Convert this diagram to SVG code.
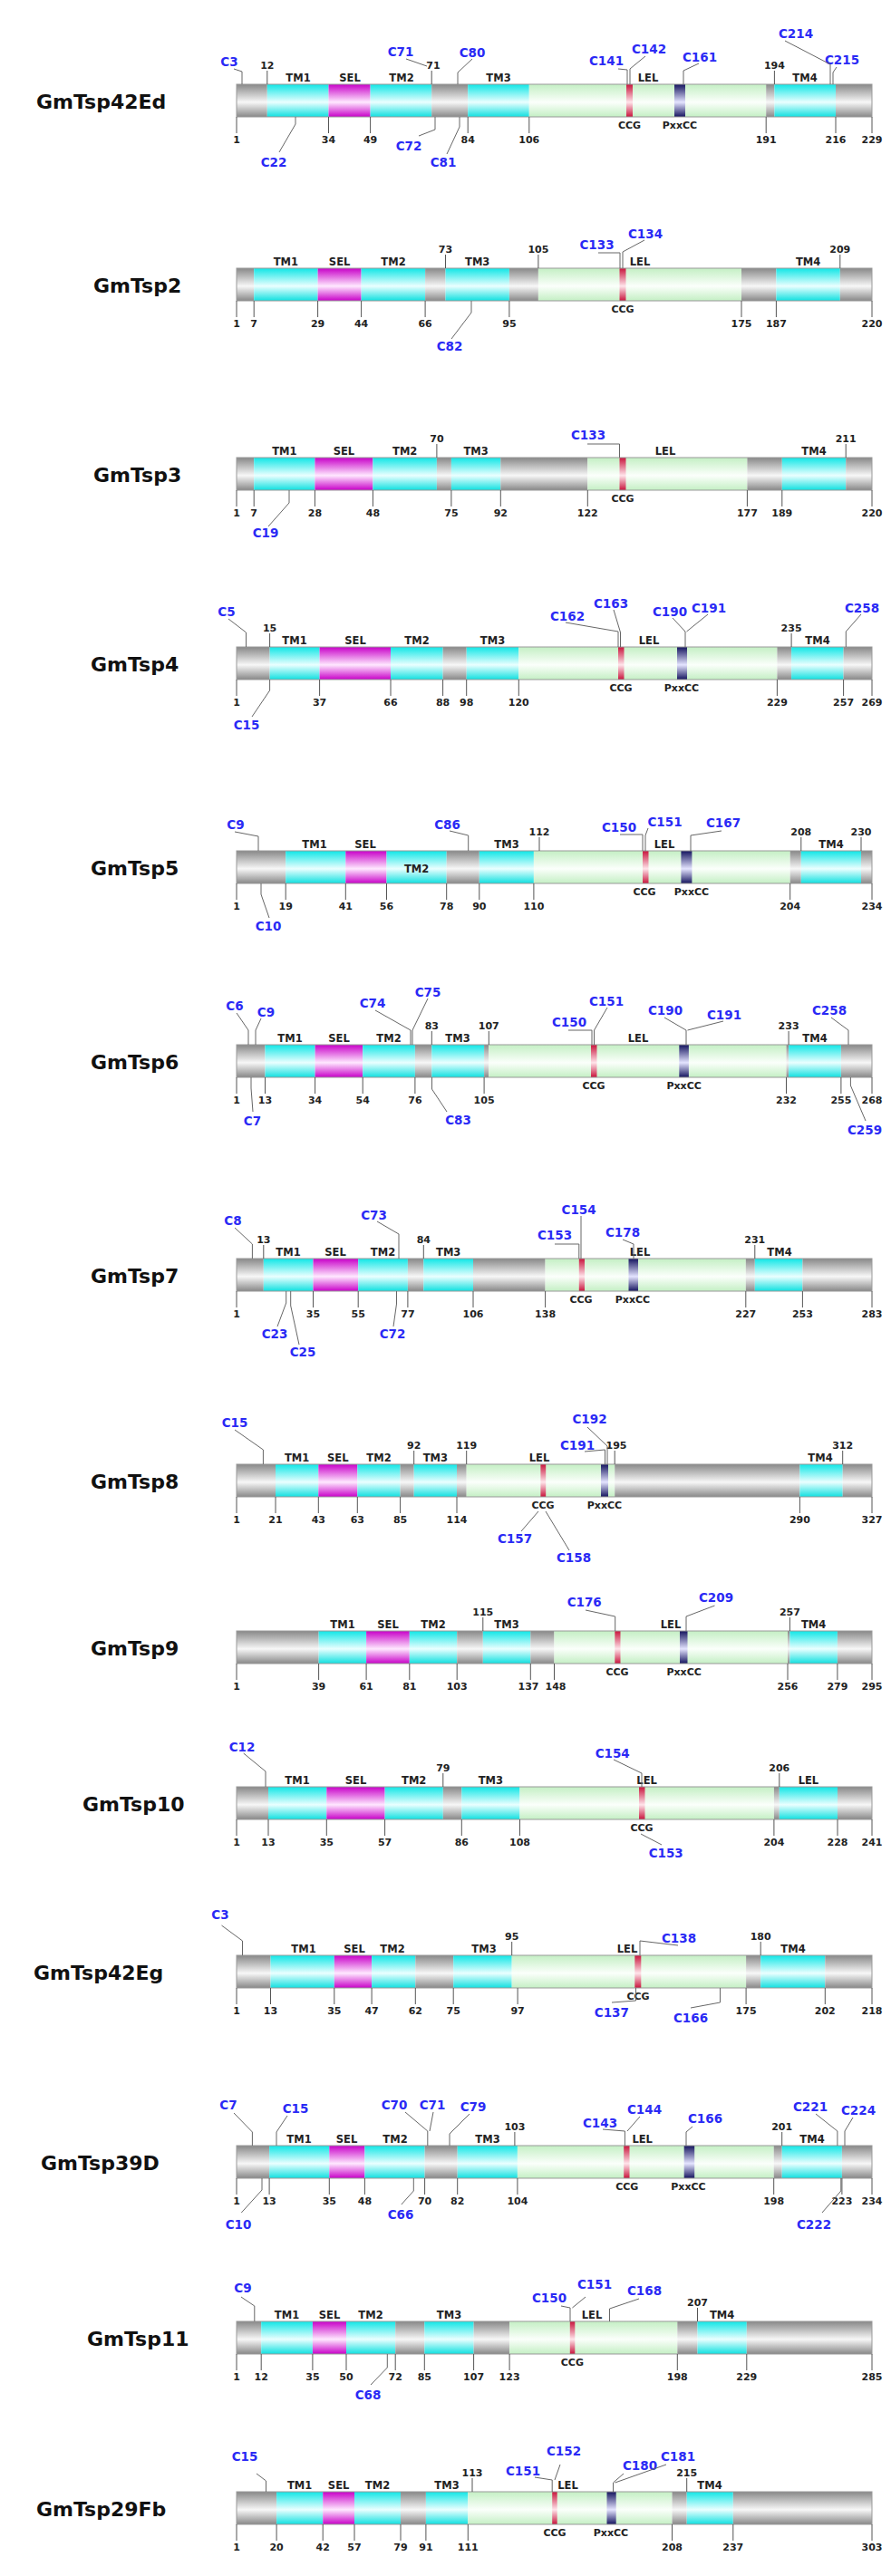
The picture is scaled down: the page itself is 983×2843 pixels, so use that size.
<svg xmlns="http://www.w3.org/2000/svg" width="983" height="2843" viewBox="0 0 983 2843">
<defs>
<linearGradient id="gG" x1="0" y1="0" x2="0" y2="1"><stop offset="0" stop-color="#888"/><stop offset="0.55" stop-color="#f7f7f7"/><stop offset="1" stop-color="#888"/></linearGradient>
<linearGradient id="gC" x1="0" y1="0" x2="0" y2="1"><stop offset="0" stop-color="#10e6e6"/><stop offset="0.55" stop-color="#eaffff"/><stop offset="1" stop-color="#10e0e0"/></linearGradient>
<linearGradient id="gM" x1="0" y1="0" x2="0" y2="1"><stop offset="0" stop-color="#c800c8"/><stop offset="0.55" stop-color="#ffe8ff"/><stop offset="1" stop-color="#c800c8"/></linearGradient>
<linearGradient id="gL" x1="0" y1="0" x2="0" y2="1"><stop offset="0" stop-color="#c4efc4"/><stop offset="0.55" stop-color="#fbfffb"/><stop offset="1" stop-color="#c4efc4"/></linearGradient>
<linearGradient id="gR" x1="0" y1="0" x2="0" y2="1"><stop offset="0" stop-color="#c8143c"/><stop offset="0.55" stop-color="#ffe4ea"/><stop offset="1" stop-color="#c8143c"/></linearGradient>
<linearGradient id="gN" x1="0" y1="0" x2="0" y2="1"><stop offset="0" stop-color="#14145e"/><stop offset="0.55" stop-color="#e4e4ff"/><stop offset="1" stop-color="#14145e"/></linearGradient>
</defs>
<style>
.nm{font-family:"DejaVu Sans",sans-serif;font-weight:bold;font-size:22px;fill:#111}
.d{font-family:"DejaVu Sans",sans-serif;font-weight:bold;font-size:11.5px;fill:#222;text-anchor:middle}
.n{font-family:"DejaVu Sans",sans-serif;font-weight:bold;font-size:11px;fill:#222;text-anchor:middle}
.c{font-family:"DejaVu Sans",sans-serif;font-weight:bold;font-size:13.5px;fill:#2a2af5;text-anchor:middle}
.gy{fill:url(#gG)}.cy{fill:url(#gC)}.mg{fill:url(#gM)}.gr{fill:url(#gL)}.rd{fill:url(#gR)}.nv{fill:url(#gN)}
.ol{fill:none;stroke:#999;stroke-width:1}
.t{stroke:#555;stroke-width:1;fill:none}
.k{stroke:#666;stroke-width:1;fill:none}
</style>
<rect width="983" height="2843" fill="#fff"/>

<g id="GmTsp42Ed" transform="translate(0,93)">
<text class="nm" x="40" y="27">GmTsp42Ed</text>
<rect class="gy" x="261" y="0" width="33.8" height="36"/><rect class="cy" x="294.8" y="0" width="67.7" height="36"/><rect class="mg" x="362.5" y="0" width="46.1" height="36"/><rect class="cy" x="408.6" y="0" width="67.6" height="36"/><rect class="gy" x="476.2" y="0" width="40" height="36"/><rect class="cy" x="516.2" y="0" width="67.6" height="36"/><rect class="gr" x="583.8" y="0" width="261.4" height="36"/><rect class="gy" x="845.2" y="0" width="9.2" height="36"/><rect class="cy" x="854.4" y="0" width="67.6" height="36"/><rect class="gy" x="922" y="0" width="40" height="36"/>
<rect class="rd" x="691" y="0" width="7" height="36"/><rect class="nv" x="744" y="0" width="12" height="36"/>
<rect class="ol" x="261" y="0" width="701" height="36"/>
<text class="d" y="-3"><tspan x="329">TM1</tspan><tspan x="386">SEL</tspan><tspan x="443">TM2</tspan><tspan x="550">TM3</tspan><tspan x="715">LEL</tspan><tspan x="888">TM4</tspan></text>
<text class="n" y="-17"><tspan x="294.8">12</tspan><tspan x="478">71</tspan><tspan x="854.4">194</tspan></text>
<text class="n" y="65"><tspan x="261">1</tspan><tspan x="362.5">34</tspan><tspan x="408.6">49</tspan><tspan x="516.2">84</tspan><tspan x="583.8">106</tspan><tspan x="845.2">191</tspan><tspan x="922">216</tspan><tspan x="962">229</tspan></text>
<text class="n" y="49"><tspan x="694.5">CCG</tspan><tspan x="750">PxxCC</tspan></text>
<text class="c"><tspan x="253" y="-20">C3</tspan><tspan x="302" y="91">C22</tspan><tspan x="442" y="-31">C71</tspan><tspan x="451" y="73">C72</tspan><tspan x="521" y="-30">C80</tspan><tspan x="489" y="91">C81</tspan><tspan x="669" y="-21">C141</tspan><tspan x="716" y="-34">C142</tspan><tspan x="772" y="-25">C161</tspan><tspan x="878" y="-51">C214</tspan><tspan x="929" y="-22">C215</tspan></text>
</g>

<g id="GmTsp2" transform="translate(0,296)">
<text class="nm" x="103" y="27">GmTsp2</text>
<rect class="gy" x="261" y="0" width="19.2" height="36"/><rect class="cy" x="280.2" y="0" width="70.4" height="36"/><rect class="mg" x="350.6" y="0" width="48" height="36"/><rect class="cy" x="398.6" y="0" width="70.5" height="36"/><rect class="gy" x="469.1" y="0" width="22.4" height="36"/><rect class="cy" x="491.5" y="0" width="70.4" height="36"/><rect class="gy" x="561.9" y="0" width="32" height="36"/><rect class="gr" x="593.9" y="0" width="224.1" height="36"/><rect class="gy" x="818" y="0" width="38.4" height="36"/><rect class="cy" x="856.4" y="0" width="70.4" height="36"/><rect class="gy" x="926.8" y="0" width="35.2" height="36"/>
<rect class="rd" x="683.5" y="0" width="7" height="36"/>
<rect class="ol" x="261" y="0" width="701" height="36"/>
<text class="d" y="-3"><tspan x="315.4">TM1</tspan><tspan x="374.6">SEL</tspan><tspan x="434">TM2</tspan><tspan x="526.7">TM3</tspan><tspan x="706">LEL</tspan><tspan x="891.6">TM4</tspan></text>
<text class="n" y="-17"><tspan x="491.5">73</tspan><tspan x="593.9">105</tspan><tspan x="926.8">209</tspan></text>
<text class="n" y="65"><tspan x="261">1</tspan><tspan x="280.2">7</tspan><tspan x="350.6">29</tspan><tspan x="398.6">44</tspan><tspan x="469.1">66</tspan><tspan x="561.9">95</tspan><tspan x="818">175</tspan><tspan x="856.4">187</tspan><tspan x="962">220</tspan></text>
<text class="n" y="49"><tspan x="687">CCG</tspan></text>
<text class="c"><tspan x="496" y="91">C82</tspan><tspan x="658.5" y="-21">C133</tspan><tspan x="712" y="-33">C134</tspan></text>
</g>

<g id="GmTsp3" transform="translate(0,505)">
<text class="nm" x="103" y="27">GmTsp3</text>
<rect class="gy" x="261" y="0" width="19.2" height="36"/><rect class="cy" x="280.2" y="0" width="67.2" height="36"/><rect class="mg" x="347.4" y="0" width="64" height="36"/><rect class="cy" x="411.4" y="0" width="70.5" height="36"/><rect class="gy" x="481.9" y="0" width="16" height="36"/><rect class="cy" x="497.9" y="0" width="54.4" height="36"/><rect class="gy" x="552.3" y="0" width="96" height="36"/><rect class="gr" x="648.3" y="0" width="176.1" height="36"/><rect class="gy" x="824.4" y="0" width="38.4" height="36"/><rect class="cy" x="862.8" y="0" width="70.4" height="36"/><rect class="gy" x="933.2" y="0" width="28.8" height="36"/>
<rect class="rd" x="683.5" y="0" width="7" height="36"/>
<rect class="ol" x="261" y="0" width="701" height="36"/>
<text class="d" y="-3"><tspan x="313.8">TM1</tspan><tspan x="379.4">SEL</tspan><tspan x="446.7">TM2</tspan><tspan x="525.1">TM3</tspan><tspan x="734">LEL</tspan><tspan x="898">TM4</tspan></text>
<text class="n" y="-17"><tspan x="481.9">70</tspan><tspan x="933.2">211</tspan></text>
<text class="n" y="65"><tspan x="261">1</tspan><tspan x="280.2">7</tspan><tspan x="347.4">28</tspan><tspan x="411.4">48</tspan><tspan x="497.9">75</tspan><tspan x="552.3">92</tspan><tspan x="648.3">122</tspan><tspan x="824.4">177</tspan><tspan x="862.8">189</tspan><tspan x="962">220</tspan></text>
<text class="n" y="49"><tspan x="687">CCG</tspan></text>
<text class="c"><tspan x="293" y="88">C19</tspan><tspan x="649" y="-20">C133</tspan></text>
</g>

<g id="GmTsp4" transform="translate(0,714)">
<text class="nm" x="100" y="27">GmTsp4</text>
<rect class="gy" x="261" y="0" width="36.6" height="36"/><rect class="cy" x="297.6" y="0" width="55" height="36"/><rect class="mg" x="352.6" y="0" width="78.4" height="36"/><rect class="cy" x="431" y="0" width="57.6" height="36"/><rect class="gy" x="488.6" y="0" width="26.1" height="36"/><rect class="cy" x="514.7" y="0" width="57.6" height="36"/><rect class="gr" x="572.3" y="0" width="285.1" height="36"/><rect class="gy" x="857.4" y="0" width="15.7" height="36"/><rect class="cy" x="873.1" y="0" width="57.5" height="36"/><rect class="gy" x="930.6" y="0" width="31.4" height="36"/>
<rect class="rd" x="682" y="0" width="6.5" height="36"/><rect class="nv" x="747" y="0" width="11" height="36"/>
<rect class="ol" x="261" y="0" width="701" height="36"/>
<text class="d" y="-3"><tspan x="325">TM1</tspan><tspan x="392">SEL</tspan><tspan x="460">TM2</tspan><tspan x="543.5">TM3</tspan><tspan x="716">LEL</tspan><tspan x="902">TM4</tspan></text>
<text class="n" y="-17"><tspan x="297.6">15</tspan><tspan x="873.1">235</tspan></text>
<text class="n" y="65"><tspan x="261">1</tspan><tspan x="352.6">37</tspan><tspan x="431">66</tspan><tspan x="488.6">88</tspan><tspan x="514.7">98</tspan><tspan x="572.3">120</tspan><tspan x="857.4">229</tspan><tspan x="930.6">257</tspan><tspan x="962">269</tspan></text>
<text class="n" y="49"><tspan x="685">CCG</tspan><tspan x="752">PxxCC</tspan></text>
<text class="c"><tspan x="250" y="-34">C5</tspan><tspan x="272" y="91">C15</tspan><tspan x="626" y="-29">C162</tspan><tspan x="674" y="-43">C163</tspan><tspan x="739" y="-34">C190</tspan><tspan x="782" y="-38">C191</tspan><tspan x="951" y="-38">C258</tspan></text>
</g>

<g id="GmTsp5" transform="translate(0,939)">
<text class="nm" x="100" y="27">GmTsp5</text>
<rect class="gy" x="261" y="0" width="54.2" height="36"/><rect class="cy" x="315.2" y="0" width="66.1" height="36"/><rect class="mg" x="381.3" y="0" width="45.2" height="36"/><rect class="cy" x="426.5" y="0" width="66.2" height="36"/><rect class="gy" x="492.7" y="0" width="36.1" height="36"/><rect class="cy" x="528.8" y="0" width="60.1" height="36"/><rect class="gr" x="588.9" y="0" width="282.8" height="36"/><rect class="gy" x="871.7" y="0" width="12.1" height="36"/><rect class="cy" x="883.8" y="0" width="66.2" height="36"/><rect class="gy" x="950" y="0" width="12" height="36"/>
<rect class="rd" x="709" y="0" width="6.5" height="36"/><rect class="nv" x="751.4" y="0" width="12" height="36"/>
<rect class="ol" x="261" y="0" width="701" height="36"/>
<text class="d" y="-3"><tspan x="347">TM1</tspan><tspan x="403">SEL</tspan><tspan x="559">TM3</tspan><tspan x="733">LEL</tspan><tspan x="917">TM4</tspan></text>
<text class="d" x="459.6" y="24">TM2</text>
<text class="n" y="-17"><tspan x="595">112</tspan><tspan x="883.8">208</tspan><tspan x="950">230</tspan></text>
<text class="n" y="65"><tspan x="261">1</tspan><tspan x="315.2">19</tspan><tspan x="381.3">41</tspan><tspan x="426.5">56</tspan><tspan x="492.7">78</tspan><tspan x="528.8">90</tspan><tspan x="588.9">110</tspan><tspan x="871.7">204</tspan><tspan x="962">234</tspan></text>
<text class="n" y="49"><tspan x="711">CCG</tspan><tspan x="763">PxxCC</tspan></text>
<text class="c"><tspan x="260" y="-24">C9</tspan><tspan x="296" y="88">C10</tspan><tspan x="493.5" y="-24">C86</tspan><tspan x="683" y="-21">C150</tspan><tspan x="733.5" y="-27">C151</tspan><tspan x="798" y="-26">C167</tspan></text>
</g>

<g id="GmTsp6" transform="translate(0,1153)">
<text class="nm" x="100" y="27">GmTsp6</text>
<rect class="gy" x="261" y="0" width="31.5" height="36"/><rect class="cy" x="292.5" y="0" width="55.1" height="36"/><rect class="mg" x="347.6" y="0" width="52.6" height="36"/><rect class="cy" x="400.2" y="0" width="57.7" height="36"/><rect class="gy" x="457.9" y="0" width="18.4" height="36"/><rect class="cy" x="476.3" y="0" width="57.8" height="36"/><rect class="gy" x="534.1" y="0" width="5.2" height="36"/><rect class="gr" x="539.3" y="0" width="328.2" height="36"/><rect class="gy" x="867.5" y="0" width="2.6" height="36"/><rect class="cy" x="870.1" y="0" width="57.8" height="36"/><rect class="gy" x="927.9" y="0" width="34.1" height="36"/>
<rect class="rd" x="652" y="0" width="6.5" height="36"/><rect class="nv" x="749.3" y="0" width="10.6" height="36"/>
<rect class="ol" x="261" y="0" width="701" height="36"/>
<text class="d" y="-3"><tspan x="320">TM1</tspan><tspan x="374">SEL</tspan><tspan x="429">TM2</tspan><tspan x="505">TM3</tspan><tspan x="704">LEL</tspan><tspan x="899">TM4</tspan></text>
<text class="n" y="-17"><tspan x="476.3">83</tspan><tspan x="539.3">107</tspan><tspan x="870.1">233</tspan></text>
<text class="n" y="65"><tspan x="261">1</tspan><tspan x="292.5">13</tspan><tspan x="347.6">34</tspan><tspan x="400.2">54</tspan><tspan x="457.9">76</tspan><tspan x="534.1">105</tspan><tspan x="867.5">232</tspan><tspan x="927.9">255</tspan><tspan x="962">268</tspan></text>
<text class="n" y="49"><tspan x="655">CCG</tspan><tspan x="754.6">PxxCC</tspan></text>
<text class="c"><tspan x="259" y="-38">C6</tspan><tspan x="293.5" y="-31">C9</tspan><tspan x="278.5" y="89">C7</tspan><tspan x="411" y="-41">C74</tspan><tspan x="472" y="-53">C75</tspan><tspan x="505.5" y="88">C83</tspan><tspan x="628" y="-20">C150</tspan><tspan x="669" y="-43">C151</tspan><tspan x="734" y="-33">C190</tspan><tspan x="799" y="-28">C191</tspan><tspan x="915" y="-33">C258</tspan><tspan x="954" y="99">C259</tspan></text>
</g>

<g id="GmTsp7" transform="translate(0,1389)">
<text class="nm" x="100" y="27">GmTsp7</text>
<rect class="gy" x="261" y="0" width="29.8" height="36"/><rect class="cy" x="290.8" y="0" width="54.7" height="36"/><rect class="mg" x="345.5" y="0" width="49.7" height="36"/><rect class="cy" x="395.2" y="0" width="54.7" height="36"/><rect class="gy" x="449.9" y="0" width="17.4" height="36"/><rect class="cy" x="467.3" y="0" width="54.7" height="36"/><rect class="gy" x="522" y="0" width="79.6" height="36"/><rect class="gr" x="601.6" y="0" width="221.2" height="36"/><rect class="gy" x="822.8" y="0" width="10" height="36"/><rect class="cy" x="832.8" y="0" width="52.6" height="36"/><rect class="gy" x="885.4" y="0" width="76.6" height="36"/>
<rect class="rd" x="638.8" y="0" width="6.2" height="36"/><rect class="nv" x="693.5" y="0" width="10.5" height="36"/>
<rect class="ol" x="261" y="0" width="701" height="36"/>
<text class="d" y="-3"><tspan x="318">TM1</tspan><tspan x="370">SEL</tspan><tspan x="422.5">TM2</tspan><tspan x="494.7">TM3</tspan><tspan x="706">LEL</tspan><tspan x="860">TM4</tspan></text>
<text class="n" y="-17"><tspan x="290.8">13</tspan><tspan x="467.3">84</tspan><tspan x="832.8">231</tspan></text>
<text class="n" y="65"><tspan x="261">1</tspan><tspan x="345.5">35</tspan><tspan x="395.2">55</tspan><tspan x="449.9">77</tspan><tspan x="522">106</tspan><tspan x="601.6">138</tspan><tspan x="822.8">227</tspan><tspan x="885.4">253</tspan><tspan x="962">283</tspan></text>
<text class="n" y="49"><tspan x="641">CCG</tspan><tspan x="698">PxxCC</tspan></text>
<text class="c"><tspan x="257" y="-37">C8</tspan><tspan x="303" y="88">C23</tspan><tspan x="334" y="108">C25</tspan><tspan x="433" y="88">C72</tspan><tspan x="412.5" y="-43">C73</tspan><tspan x="612" y="-21">C153</tspan><tspan x="638.6" y="-49">C154</tspan><tspan x="687" y="-24">C178</tspan></text>
</g>

<g id="GmTsp8" transform="translate(0,1616)">
<text class="nm" x="100" y="27">GmTsp8</text>
<rect class="gy" x="261" y="0" width="43" height="36"/><rect class="cy" x="304" y="0" width="47.3" height="36"/><rect class="mg" x="351.3" y="0" width="43" height="36"/><rect class="cy" x="394.3" y="0" width="47.3" height="36"/><rect class="gy" x="441.6" y="0" width="15.1" height="36"/><rect class="cy" x="456.7" y="0" width="47.3" height="36"/><rect class="gy" x="504" y="0" width="10.7" height="36"/><rect class="gr" x="514.7" y="0" width="163.5" height="36"/><rect class="gy" x="678.2" y="0" width="204.2" height="36"/><rect class="cy" x="882.4" y="0" width="47.3" height="36"/><rect class="gy" x="929.7" y="0" width="32.3" height="36"/>
<rect class="rd" x="596.4" y="0" width="5.8" height="36"/><rect class="nv" x="663" y="0" width="8" height="36"/>
<rect class="ol" x="261" y="0" width="701" height="36"/>
<text class="d" y="-3"><tspan x="327.6">TM1</tspan><tspan x="372.8">SEL</tspan><tspan x="418">TM2</tspan><tspan x="480.3">TM3</tspan><tspan x="595">LEL</tspan><tspan x="905">TM4</tspan></text>
<text class="n" y="-17"><tspan x="456.7">92</tspan><tspan x="514.7">119</tspan><tspan x="680">195</tspan><tspan x="929.7">312</tspan></text>
<text class="n" y="65"><tspan x="261">1</tspan><tspan x="304">21</tspan><tspan x="351.3">43</tspan><tspan x="394.3">63</tspan><tspan x="441.6">85</tspan><tspan x="504">114</tspan><tspan x="882.4">290</tspan><tspan x="962">327</tspan></text>
<text class="n" y="49"><tspan x="599">CCG</tspan><tspan x="667">PxxCC</tspan></text>
<text class="c"><tspan x="259" y="-41">C15</tspan><tspan x="650.5" y="-45">C192</tspan><tspan x="637" y="-16">C191</tspan><tspan x="568" y="87">C157</tspan><tspan x="633" y="108">C158</tspan></text>
</g>

<g id="GmTsp9" transform="translate(0,1800)">
<text class="nm" x="100" y="27">GmTsp9</text>
<rect class="gy" x="261" y="0" width="90.6" height="36"/><rect class="cy" x="351.6" y="0" width="52.5" height="36"/><rect class="mg" x="404.1" y="0" width="47.7" height="36"/><rect class="cy" x="451.8" y="0" width="52.4" height="36"/><rect class="gy" x="504.2" y="0" width="28.6" height="36"/><rect class="cy" x="532.8" y="0" width="52.5" height="36"/><rect class="gy" x="585.3" y="0" width="26.2" height="36"/><rect class="gr" x="611.5" y="0" width="257.5" height="36"/><rect class="gy" x="869" y="0" width="2.4" height="36"/><rect class="cy" x="871.4" y="0" width="52.5" height="36"/><rect class="gy" x="923.9" y="0" width="38.1" height="36"/>
<rect class="rd" x="678.3" y="0" width="6.2" height="36"/><rect class="nv" x="750" y="0" width="8.5" height="36"/>
<rect class="ol" x="261" y="0" width="701" height="36"/>
<text class="d" y="-3"><tspan x="378">TM1</tspan><tspan x="428">SEL</tspan><tspan x="478">TM2</tspan><tspan x="559">TM3</tspan><tspan x="740">LEL</tspan><tspan x="897.6">TM4</tspan></text>
<text class="n" y="-17"><tspan x="532.8">115</tspan><tspan x="871.4">257</tspan></text>
<text class="n" y="65"><tspan x="261">1</tspan><tspan x="351.6">39</tspan><tspan x="404.1">61</tspan><tspan x="451.8">81</tspan><tspan x="504.2">103</tspan><tspan x="583">137</tspan><tspan x="613">148</tspan><tspan x="869">256</tspan><tspan x="923.9">279</tspan><tspan x="962">295</tspan></text>
<text class="n" y="49"><tspan x="681">CCG</tspan><tspan x="754.6">PxxCC</tspan></text>
<text class="c"><tspan x="644.7" y="-27">C176</tspan><tspan x="790" y="-32">C209</tspan></text>
</g>

<g id="GmTsp10" transform="translate(0,1972)">
<text class="nm" x="91" y="27">GmTsp10</text>
<rect class="gy" x="261" y="0" width="35" height="36"/><rect class="cy" x="296" y="0" width="64.3" height="36"/><rect class="mg" x="360.3" y="0" width="64.3" height="36"/><rect class="cy" x="424.6" y="0" width="64.2" height="36"/><rect class="gy" x="488.8" y="0" width="20.5" height="36"/><rect class="cy" x="509.3" y="0" width="64.2" height="36"/><rect class="gr" x="573.5" y="0" width="280.4" height="36"/><rect class="gy" x="853.9" y="0" width="5.9" height="36"/><rect class="cy" x="859.8" y="0" width="64.2" height="36"/><rect class="gy" x="924" y="0" width="38" height="36"/>
<rect class="rd" x="705" y="0" width="6.5" height="36"/>
<rect class="ol" x="261" y="0" width="701" height="36"/>
<text class="d" y="-3"><tspan x="328">TM1</tspan><tspan x="392.5">SEL</tspan><tspan x="456.7">TM2</tspan><tspan x="541.4">TM3</tspan><tspan x="713.6">LEL</tspan><tspan x="891.9">LEL</tspan></text>
<text class="n" y="-17"><tspan x="488.8">79</tspan><tspan x="859.8">206</tspan></text>
<text class="n" y="65"><tspan x="261">1</tspan><tspan x="296">13</tspan><tspan x="360.3">35</tspan><tspan x="424.6">57</tspan><tspan x="509.3">86</tspan><tspan x="573.5">108</tspan><tspan x="853.9">204</tspan><tspan x="924">228</tspan><tspan x="962">241</tspan></text>
<text class="n" y="49"><tspan x="708">CCG</tspan></text>
<text class="c"><tspan x="267" y="-39">C12</tspan><tspan x="675.7" y="-32">C154</tspan><tspan x="734.7" y="78">C153</tspan></text>
</g>

<g id="GmTsp42Eg" transform="translate(0,2158)">
<text class="nm" x="37" y="27">GmTsp42Eg</text>
<rect class="gy" x="261" y="0" width="37.5" height="36"/><rect class="cy" x="298.5" y="0" width="70.3" height="36"/><rect class="mg" x="368.8" y="0" width="41.3" height="36"/><rect class="cy" x="410.1" y="0" width="48.2" height="36"/><rect class="gy" x="458.3" y="0" width="41.9" height="36"/><rect class="cy" x="500.2" y="0" width="64.5" height="36"/><rect class="gr" x="564.7" y="0" width="258.4" height="36"/><rect class="gy" x="823.1" y="0" width="16.1" height="36"/><rect class="cy" x="839.2" y="0" width="71.1" height="36"/><rect class="gy" x="910.3" y="0" width="51.7" height="36"/>
<rect class="rd" x="700.3" y="0" width="7" height="36"/>
<rect class="ol" x="261" y="0" width="701" height="36"/>
<text class="d" y="-3"><tspan x="335">TM1</tspan><tspan x="391">SEL</tspan><tspan x="433">TM2</tspan><tspan x="534">TM3</tspan><tspan x="692">LEL</tspan><tspan x="875">TM4</tspan></text>
<text class="n" y="-17"><tspan x="564.7">95</tspan><tspan x="839.2">180</tspan></text>
<text class="n" y="65"><tspan x="261">1</tspan><tspan x="298.5">13</tspan><tspan x="368.8">35</tspan><tspan x="410.1">47</tspan><tspan x="458.3">62</tspan><tspan x="500.2">75</tspan><tspan x="571.1">97</tspan><tspan x="823.1">175</tspan><tspan x="910.3">202</tspan><tspan x="962">218</tspan></text>
<text class="n" y="49"><tspan x="704">CCG</tspan></text>
<text class="c"><tspan x="243" y="-40">C3</tspan><tspan x="749" y="-14">C138</tspan><tspan x="674.8" y="68">C137</tspan><tspan x="762" y="74">C166</tspan></text>
</g>

<g id="GmTsp39D" transform="translate(0,2368)">
<text class="nm" x="45" y="27">GmTsp39D</text>
<rect class="gy" x="261" y="0" width="36.1" height="36"/><rect class="cy" x="297.1" y="0" width="66.2" height="36"/><rect class="mg" x="363.3" y="0" width="39.1" height="36"/><rect class="cy" x="402.4" y="0" width="66.2" height="36"/><rect class="gy" x="468.6" y="0" width="36.1" height="36"/><rect class="cy" x="504.7" y="0" width="66.2" height="36"/><rect class="gr" x="570.9" y="0" width="282.8" height="36"/><rect class="gy" x="853.7" y="0" width="9" height="36"/><rect class="cy" x="862.7" y="0" width="66.2" height="36"/><rect class="gy" x="928.9" y="0" width="33.1" height="36"/>
<rect class="rd" x="688.2" y="0" width="6.3" height="36"/><rect class="nv" x="754.7" y="0" width="11.5" height="36"/>
<rect class="ol" x="261" y="0" width="701" height="36"/>
<text class="d" y="-3"><tspan x="330">TM1</tspan><tspan x="382.5">SEL</tspan><tspan x="436">TM2</tspan><tspan x="538">TM3</tspan><tspan x="708.7">LEL</tspan><tspan x="896">TM4</tspan></text>
<text class="n" y="-17"><tspan x="567.9">103</tspan><tspan x="862.7">201</tspan></text>
<text class="n" y="65"><tspan x="261">1</tspan><tspan x="297.1">13</tspan><tspan x="363.3">35</tspan><tspan x="402.4">48</tspan><tspan x="468.6">70</tspan><tspan x="504.7">82</tspan><tspan x="570.9">104</tspan><tspan x="853.7">198</tspan><tspan x="928.9">223</tspan><tspan x="962">234</tspan></text>
<text class="n" y="49"><tspan x="691.8">CCG</tspan><tspan x="759.5">PxxCC</tspan></text>
<text class="c"><tspan x="252" y="-40">C7</tspan><tspan x="326" y="-36">C15</tspan><tspan x="435" y="-40">C70</tspan><tspan x="477" y="-40">C71</tspan><tspan x="522" y="-38">C79</tspan><tspan x="662" y="-20">C143</tspan><tspan x="711" y="-35">C144</tspan><tspan x="778" y="-25">C166</tspan><tspan x="894" y="-38">C221</tspan><tspan x="947" y="-34">C224</tspan><tspan x="263" y="92">C10</tspan><tspan x="442" y="81">C66</tspan><tspan x="898" y="92">C222</tspan></text>
</g>

<g id="GmTsp11" transform="translate(0,2562)">
<text class="nm" x="96" y="27">GmTsp11</text>
<rect class="gy" x="261" y="0" width="27.2" height="36"/><rect class="cy" x="288.2" y="0" width="56.7" height="36"/><rect class="mg" x="344.9" y="0" width="37.1" height="36"/><rect class="cy" x="382" y="0" width="54.2" height="36"/><rect class="gy" x="436.2" y="0" width="32.1" height="36"/><rect class="cy" x="468.3" y="0" width="54.3" height="36"/><rect class="gy" x="522.6" y="0" width="39.5" height="36"/><rect class="gr" x="562.1" y="0" width="185.2" height="36"/><rect class="gy" x="747.3" y="0" width="22.2" height="36"/><rect class="cy" x="769.5" y="0" width="54.3" height="36"/><rect class="gy" x="823.8" y="0" width="138.2" height="36"/>
<rect class="rd" x="628.8" y="0" width="5.5" height="36"/>
<rect class="ol" x="261" y="0" width="701" height="36"/>
<text class="d" y="-3"><tspan x="316.5">TM1</tspan><tspan x="363.5">SEL</tspan><tspan x="409">TM2</tspan><tspan x="495.5">TM3</tspan><tspan x="653">LEL</tspan><tspan x="796.6">TM4</tspan></text>
<text class="n" y="-17"><tspan x="769.5">207</tspan></text>
<text class="n" y="65"><tspan x="261">1</tspan><tspan x="288.2">12</tspan><tspan x="344.9">35</tspan><tspan x="382">50</tspan><tspan x="436.2">72</tspan><tspan x="468.3">85</tspan><tspan x="522.6">107</tspan><tspan x="562.1">123</tspan><tspan x="747.3">198</tspan><tspan x="823.8">229</tspan><tspan x="962">285</tspan></text>
<text class="n" y="49"><tspan x="631.4">CCG</tspan></text>
<text class="c"><tspan x="268" y="-32">C9</tspan><tspan x="406" y="86">C68</tspan><tspan x="606" y="-21">C150</tspan><tspan x="656" y="-36">C151</tspan><tspan x="711" y="-29">C168</tspan></text>
</g>

<g id="GmTsp29Fb" transform="translate(0,2750)">
<text class="nm" x="40" y="27">GmTsp29Fb</text>
<rect class="gy" x="261" y="0" width="44.1" height="36"/><rect class="cy" x="305.1" y="0" width="51.1" height="36"/><rect class="mg" x="356.2" y="0" width="34.8" height="36"/><rect class="cy" x="391" y="0" width="51" height="36"/><rect class="gy" x="442" y="0" width="27.9" height="36"/><rect class="cy" x="469.9" y="0" width="46.4" height="36"/><rect class="gr" x="516.3" y="0" width="225.2" height="36"/><rect class="gy" x="741.5" y="0" width="16.2" height="36"/><rect class="cy" x="757.7" y="0" width="51.1" height="36"/><rect class="gy" x="808.8" y="0" width="153.2" height="36"/>
<rect class="rd" x="609.2" y="0" width="5.5" height="36"/><rect class="nv" x="669.5" y="0" width="10.2" height="36"/>
<rect class="ol" x="261" y="0" width="701" height="36"/>
<text class="d" y="-3"><tspan x="330.6">TM1</tspan><tspan x="373.6">SEL</tspan><tspan x="416.5">TM2</tspan><tspan x="493">TM3</tspan><tspan x="626.5">LEL</tspan><tspan x="783">TM4</tspan></text>
<text class="n" y="-17"><tspan x="521">113</tspan><tspan x="757.7">215</tspan></text>
<text class="n" y="65"><tspan x="261">1</tspan><tspan x="305.1">20</tspan><tspan x="356.2">42</tspan><tspan x="391">57</tspan><tspan x="442">79</tspan><tspan x="469.9">91</tspan><tspan x="516.3">111</tspan><tspan x="741.5">208</tspan><tspan x="808.8">237</tspan><tspan x="962">303</tspan></text>
<text class="n" y="49"><tspan x="612">CCG</tspan><tspan x="674">PxxCC</tspan></text>
<text class="c"><tspan x="270" y="-34">C15</tspan><tspan x="577" y="-18">C151</tspan><tspan x="622" y="-40">C152</tspan><tspan x="706" y="-24">C180</tspan><tspan x="748" y="-34">C181</tspan></text>
</g>

<g id="connectors">
<g transform="translate(0,93)">
<path class="t" d="M294.8 -15V0M476.2 -15V0M854.4 -15V0M261 36V54M362.5 36V54M408.6 36V54M516.2 36V54M583.8 36V54M845.2 36V54M922 36V54M962 36V54"/>
<path class="k" d="M267 0V-14L258 -17M326 36V44L308 75M448 -28L471 -20M480 36V50L462 57M521 -28L505 -13V0M507 36V47L493 77M682 -17L692 -16V0M712 -31L695 -17V0M771 -23L754 -15V0M866 -48L916 -22V0M923 -19L919 -13V0"/>
</g>
<g transform="translate(0,296)">
<path class="t" d="M491.5 -15V0M593.9 -15V0M926.8 -15V0M261 36V54M280.2 36V54M350.6 36V54M398.6 36V54M469.1 36V54M561.9 36V54M818 36V54M856.4 36V54M962 36V54"/>
<path class="k" d="M520 36V49L498 78M660 -17H684V0M711 -31L687 -18V0"/>
</g>
<g transform="translate(0,505)">
<path class="t" d="M481.9 -15V0M933.2 -15V0M261 36V54M280.2 36V54M347.4 36V54M411.4 36V54M497.9 36V54M552.3 36V54M648.3 36V54M824.4 36V54M862.8 36V54M962 36V54"/>
<path class="k" d="M319 36V50L296 76M648 -15H683.5V0"/>
</g>
<g transform="translate(0,714)">
<path class="t" d="M297.6 -15V0M873.1 -15V0M261 36V54M352.6 36V54M431 36V54M488.6 36V54M514.7 36V54M572.3 36V54M857.4 36V54M930.6 36V54M962 36V54"/>
<path class="k" d="M252 -31L271.5 -16V0M297.6 36V48L278 77M624 -27L682 -17V0M677 -41L684.5 -16V0M742 -32L756 -17V0M781 -36L757.5 -17M950 -36L933.3 -17V0"/>
</g>
<g transform="translate(0,939)">
<path class="t" d="M595 -15V0M883.8 -15V0M950 -15V0M261 36V54M315.2 36V54M381.3 36V54M426.5 36V54M492.7 36V54M528.8 36V54M588.9 36V54M871.7 36V54M962 36V54"/>
<path class="k" d="M259 -21L285 -16V0M288 36V48L297 74M496 -22L516.7 -17V0M684 -18H709V0M715 -25L712 -17V0M796 -22L762 -17V0"/>
</g>
<g transform="translate(0,1153)">
<path class="t" d="M476.3 -15V0M539.3 -15V0M870.1 -15V0M261 36V54M292.5 36V54M347.6 36V54M400.2 36V54M457.9 36V54M534.1 36V54M867.5 36V54M927.9 36V54M962 36V54"/>
<path class="k" d="M261 -35L274 -16V0M288 -29L282 -16V0M277 36V48L279 74M414 -38L453 -16V0M472 -51L455 -16V0M476.5 36V49L493 74M627 -16H653V0M670 -41L655.5 -16V0M733 -30L757 -16V0M798 -26L758.5 -16M917 -30L936 -16V0M938.4 36V45L955 84"/>
</g>
<g transform="translate(0,1389)">
<path class="t" d="M290.8 -15V0M467.3 -15V0M832.8 -15V0M261 36V54M345.5 36V54M395.2 36V54M449.9 36V54M522 36V54M601.6 36V54M822.8 36V54M885.4 36V54M962 36V54"/>
<path class="k" d="M259 -34L278.4 -16V0M315.7 36V49L306 75M320.7 36V52L330 95M437.5 36V50L434 75M416 -41L440 -27V0M612 -16H638.8V0M641 -47V0M687 -21L699 -16V0"/>
</g>
<g transform="translate(0,1616)">
<path class="t" d="M456.7 -15V0M514.7 -15V0M678.2 -15V0M929.7 -15V0M261 36V54M304 36V54M351.3 36V54M394.3 36V54M441.6 36V54M504 36V54M882.4 36V54M962 36V54"/>
<path class="k" d="M259 -38L290.4 -16V0M648 -41L670 -20V0M645 -14L667.5 -16V0M594 52L575 74M602 52L628 95"/>
</g>
<g transform="translate(0,1800)">
<path class="t" d="M532.8 -15V0M871.4 -15V0M261 36V54M351.6 36V54M404.1 36V54M451.8 36V54M504.2 36V54M585.3 36V54M611.5 36V54M869 36V54M923.9 36V54M962 36V54"/>
<path class="k" d="M646 -23L678.7 -16V0M788.5 -28L757 -16V0"/>
</g>
<g transform="translate(0,1972)">
<path class="t" d="M488.8 -15V0M859.8 -15V0M261 36V54M296 36V54M360.3 36V54M424.6 36V54M509.3 36V54M573.5 36V54M853.9 36V54M924 36V54M962 36V54"/>
<path class="k" d="M268.7 -37L293 -17V0M677 -30L708 -15V0M707 52L730 64"/>
</g>
<g transform="translate(0,2158)">
<path class="t" d="M564.7 -15V0M839.2 -15V0M261 36V54M298.5 36V54M368.8 36V54M410.1 36V54M458.3 36V54M500.2 36V54M571.1 36V54M823.1 36V54M910.3 36V54M962 36V54"/>
<path class="k" d="M267.5 0V-16L244.5 -33M748 -11L706 -16V0M675 52L701.5 50V36M762 58L794.5 52V36"/>
</g>
<g transform="translate(0,2368)">
<path class="t" d="M567.9 -15V0M862.7 -15V0M261 36V54M297.1 36V54M363.3 36V54M402.4 36V54M468.6 36V54M504.7 36V54M570.9 36V54M853.7 36V54M928.9 36V54M962 36V54"/>
<path class="k" d="M278.4 0V-15L258 -36M305 0V-15L317 -33M471.8 0V-16L447 -37M474 -16L478 -37M496 0V-13L518 -35M665 -18L689.4 -16V0M692 -16L706 -32M757 0V-15L764 -21M900 -35L923.9 -16V0M941 -31L932 -16V0M289 36V49L266.3 74M456.3 36V50L442.8 65M927.8 36V50L907 74"/>
</g>
<g transform="translate(0,2562)">
<path class="t" d="M769.5 -15V0M261 36V54M288.2 36V54M344.9 36V54M382 36V54M436.2 36V54M468.3 36V54M522.6 36V54M562.1 36V54M747.3 36V54M823.8 36V54M962 36V54"/>
<path class="k" d="M280.8 0V-17L266 -27M427.3 36V51L409 70M619 -17L629 -15V0M631.4 -15L646 -27M672.5 0V-14L705 -25"/>
</g>
<g transform="translate(0,2750)">
<path class="t" d="M521 -15V0M757.7 -15V0M261 36V54M305.1 36V54M356.2 36V54M391 36V54M442 36V54M469.9 36V54M516.3 36V54M741.5 36V54M808.8 36V54M962 36V54"/>
<path class="k" d="M293.5 0V-12L283 -20M609.2 0V-13L590 -16M612 -13L618 -30M676.5 0V-10L688 -20M678.5 -10L735 -30"/>
</g>
</g>
</svg>
